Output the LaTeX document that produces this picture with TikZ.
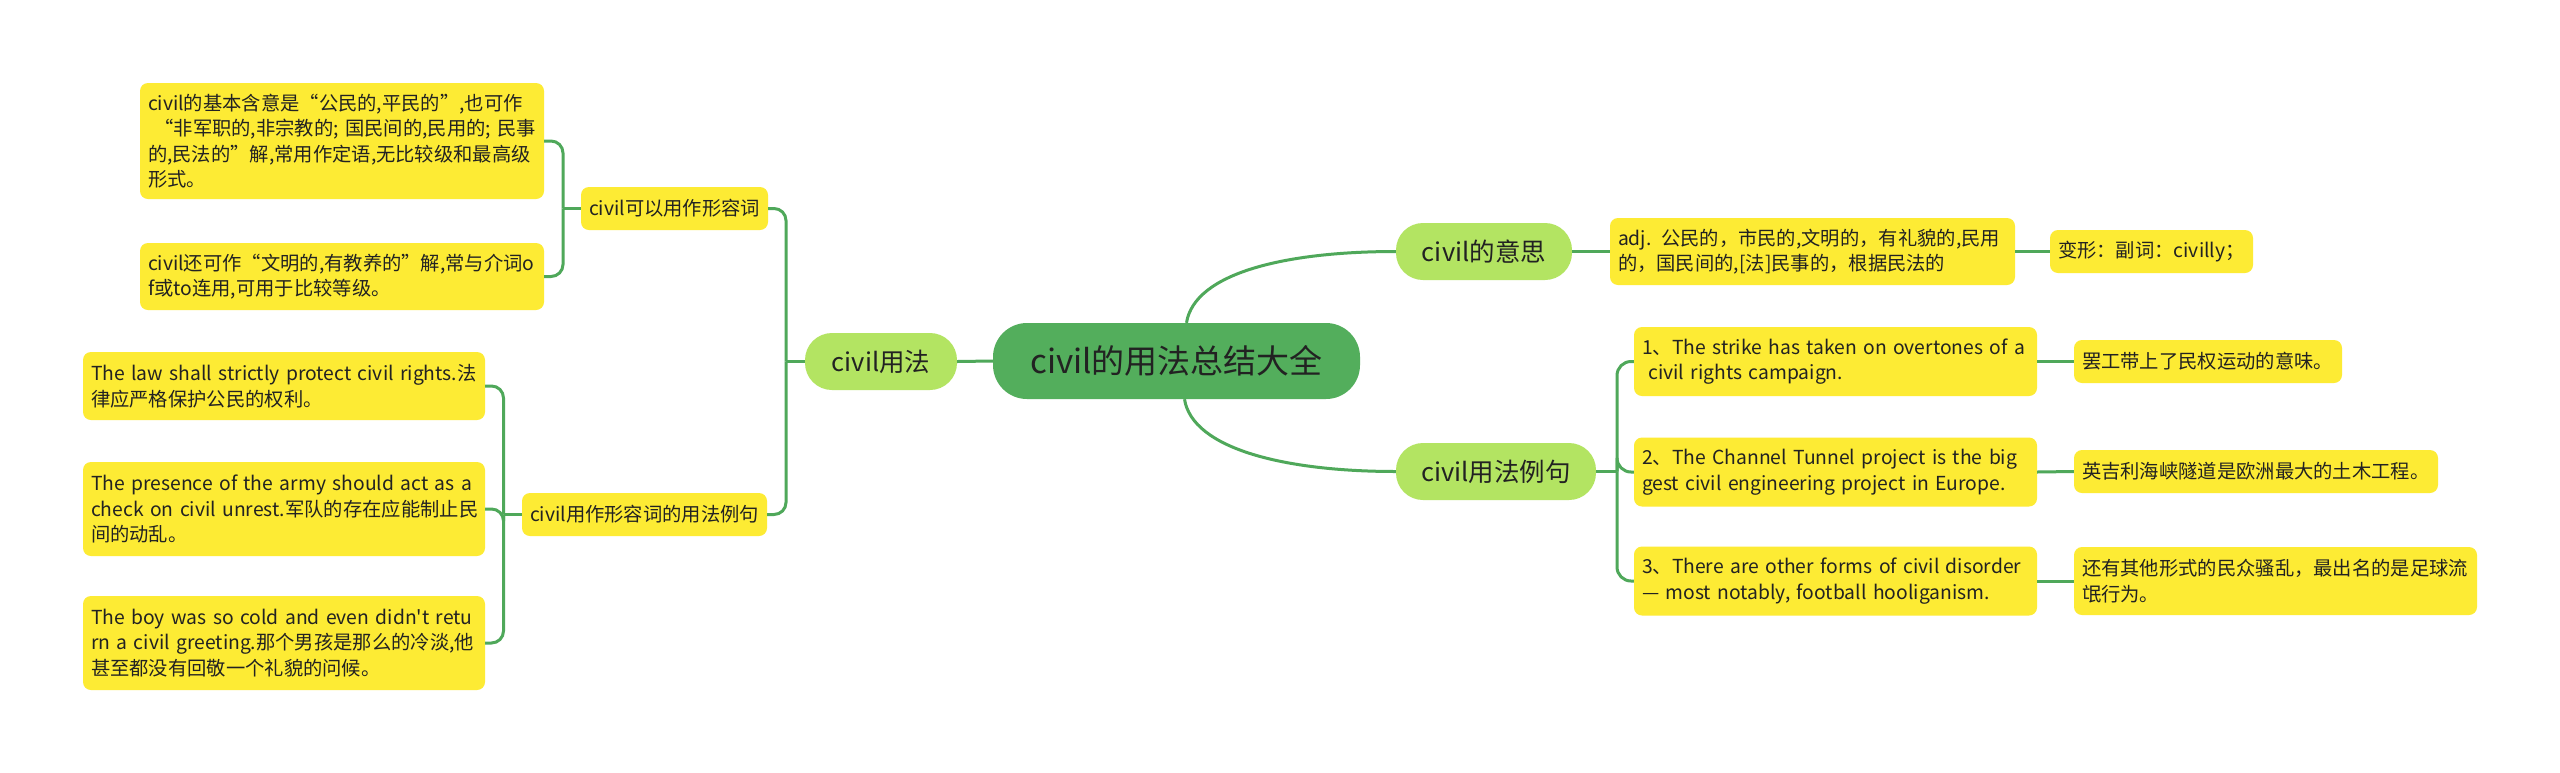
\documentclass[tikz,border=0pt]{standalone}
\usepackage{fontspec}
\newfontfamily\cjkfont{Noto Sans CJK SC}
\newcommand\lnbox[1]{\mbox{#1}}
\definecolor{rootgreen}{HTML}{53AE5C}
\definecolor{lightgreen}{HTML}{B3E462}
\definecolor{leafyellow}{HTML}{FDEB34}
\definecolor{linegreen}{HTML}{4FA85A}
\definecolor{textc}{HTML}{222222}
\begin{document}
\begin{tikzpicture}[x=1pt,y=-1pt,
  conn/.style={draw=linegreen, line width=3pt},
  rootn/.style={fill=rootgreen, rounded corners=34pt, inner sep=0pt, text=textc,
    font=\cjkfont\fontsize{33}{40}\selectfont},
  lvlone/.style={fill=lightgreen, rounded corners=27pt, inner sep=0pt, text=textc,
    font=\cjkfont\fontsize{25.5}{30}\selectfont},
  leaf/.style={fill=leafyellow, rounded corners=8pt, inner xsep=8pt, inner ysep=0pt,
    align=left, text=textc, font=\cjkfont\fontsize{19.3}{25.5}\selectfont},
]
\useasboundingbox[fill=white] (0,0) rectangle (2560,772);

% central and level one
\node[rootn, minimum width=367pt, minimum height=76pt] (root) at (1176.5,361) {civil的用法总结大全};
\node[lvlone, minimum width=152pt, minimum height=57pt] (usage) at (881,361.5) {civil用法};
\node[lvlone, minimum width=176pt, minimum height=57pt] (mean) at (1484,251.5) {civil的意思};
\node[lvlone, minimum width=200pt, minimum height=57pt] (exm) at (1496,471.5) {civil用法例句};

% left level two
\node[leaf, minimum width=187pt, minimum height=43pt, text width=171pt] (adjn) at (674.5,208.5) {\lnbox{civil可以用作形容词}};
\node[leaf, minimum width=245pt, minimum height=43pt, text width=229pt] (sent) at (644.5,514.5) {\lnbox{civil用作形容词的用法例句}};

% left leaves
\node[leaf, minimum width=404pt, minimum height=116pt, text width=388pt] (lone) at (342,141)
 {\lnbox{civil的基本含意是“公民的,平民的”,也可作}\\\lnbox{ “非军职的,非宗教的; 国民间的,民用的; 民事}\\\lnbox{的,民法的”解,常用作定语,无比较级和最高级}\\\lnbox{形式。}};
\node[leaf, minimum width=404pt, minimum height=67pt, text width=388pt] (ltwo) at (342,276.5)
 {\lnbox{civil还可作“文明的,有教养的”解,常与介词o}\\\lnbox{f或to连用,可用于比较等级。}};
\node[leaf, minimum width=402pt, minimum height=68pt, text width=386pt] (sa) at (284,386)
 {\lnbox{The law shall strictly protect civil rights.法}\\\lnbox{律应严格保护公民的权利。}};
\node[leaf, minimum width=402pt, minimum height=94pt, text width=386pt] (sb) at (284,509)
 {\lnbox{The presence of the army should act as a}\\\lnbox{check on civil unrest.军队的存在应能制止民}\\\lnbox{间的动乱。}};
\node[leaf, minimum width=402pt, minimum height=94pt, text width=386pt] (sc) at (284,643)
 {\lnbox{The boy was so cold and even didn't retu}\\\lnbox{rn a civil greeting.那个男孩是那么的冷淡,他}\\\lnbox{甚至都没有回敬一个礼貌的问候。}};

% right side
\node[leaf, minimum width=405pt, minimum height=67pt, text width=389pt] (adjbox) at (1812.5,251.5)
 {\lnbox{adj. 公民的，市民的,文明的，有礼貌的,民用}\\\lnbox{的，国民间的,[法]民事的，根据民法的}};
\node[leaf, minimum width=203pt, minimum height=43pt, text width=187pt] (bx) at (2151.5,251.5)
 {\lnbox{变形：副词：civilly；}};

\node[leaf, minimum width=403pt, minimum height=69pt, text width=387pt] (exone) at (1835.5,361.5)
 {\lnbox{1、The strike has taken on overtones of a}\\\lnbox{ civil rights campaign.}};
\node[leaf, minimum width=403pt, minimum height=69pt, text width=387pt] (extwo) at (1835.5,472)
 {\lnbox{2、The Channel Tunnel project is the big}\\\lnbox{gest civil engineering project in Europe.}};
\node[leaf, minimum width=403pt, minimum height=69pt, text width=387pt] (exthree) at (1835.5,581)
 {\lnbox{3、There are other forms of civil disorder}\\\lnbox{— most notably, football hooliganism.}};

\node[leaf, minimum width=268pt, minimum height=43pt, text width=252pt] (trone) at (2208,361.5)
 {\lnbox{罢工带上了民权运动的意味。}};
\node[leaf, minimum width=364pt, minimum height=43pt, text width=348pt] (trtwo) at (2256,471.5)
 {\lnbox{英吉利海峡隧道是欧洲最大的土木工程。}};
\node[leaf, minimum width=403pt, minimum height=68pt, text width=387pt] (trthree) at (2275.5,581)
 {\lnbox{还有其他形式的民众骚乱，最出名的是足球流}\\\lnbox{氓行为。}};

% bracket points
\coordinate (bu) at (786,361.5);
\coordinate (ba) at (563,208.5);
\coordinate (bs) at (503.5,514.5);
\coordinate (be) at (1617,471.5);

% connectors
\draw[conn] (root.west) -- (usage.east);
\draw[conn] ([xshift=10pt]root.north) .. controls +(8,-50) and +(-110,0) .. (mean.west);
\draw[conn] ([xshift=8pt]root.south) .. controls +(8,50) and +(-110,0) .. (exm.west);

\draw[conn] (usage.west) -- (bu);
\draw[conn, rounded corners=12pt] (bu) |- (adjn.east);
\draw[conn, rounded corners=12pt] (bu) |- (sent.east);

\draw[conn] (adjn.west) -- (ba);
\draw[conn, rounded corners=12pt] (ba) |- (lone.east);
\draw[conn, rounded corners=12pt] (ba) |- (ltwo.east);

\draw[conn] (sent.west) -- (bs);
\draw[conn, rounded corners=12pt] (bs) |- (sa.east);
\draw[conn, rounded corners=12pt] (bs) |- (sb.east);
\draw[conn, rounded corners=12pt] (bs) |- (sc.east);

\draw[conn] (mean.east) -- (adjbox.west);
\draw[conn] (adjbox.east) -- (bx.west);

\draw[conn] (exm.east) -- (be);
\draw[conn, rounded corners=14pt] (be) |- (exone.west);
\draw[conn, rounded corners=14pt] (be) |- (extwo.west);
\draw[conn, rounded corners=14pt] (be) |- (exthree.west);

\draw[conn] (exone.east) -- (trone.west);
\draw[conn] (extwo.east) -- (trtwo.west);
\draw[conn] (exthree.east) -- (trthree.west);
\end{tikzpicture}
\end{document}
